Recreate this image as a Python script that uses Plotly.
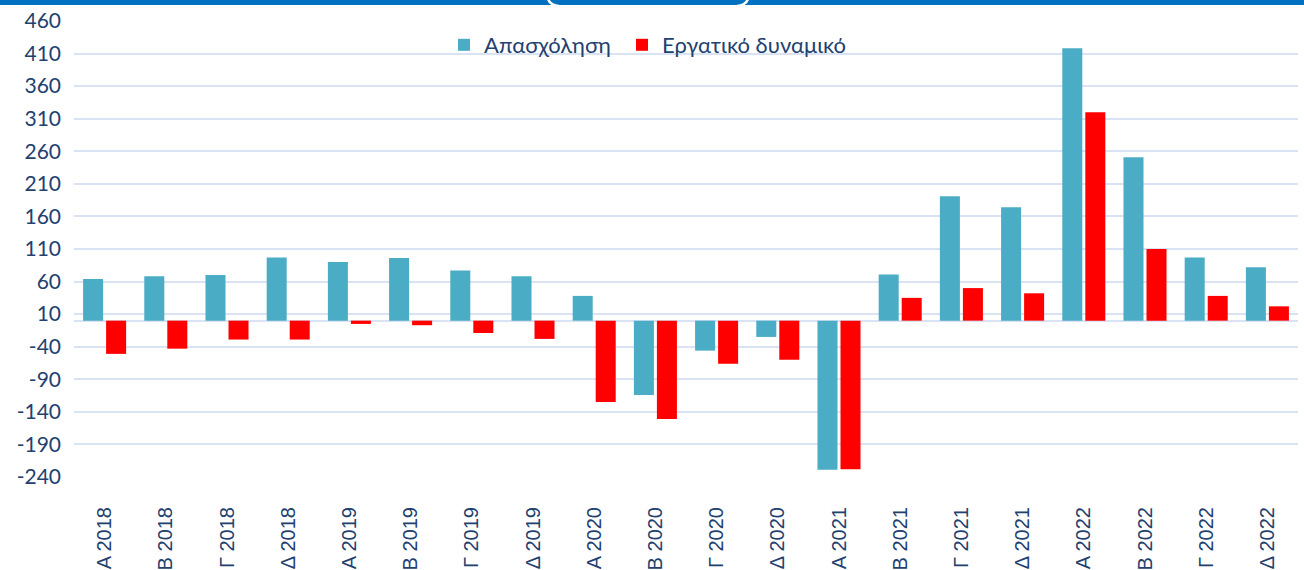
import plotly.graph_objects as go

categories = ["Α 2018", "Β 2018", "Γ 2018", "Δ 2018",
              "Α 2019", "Β 2019", "Γ 2019", "Δ 2019",
              "Α 2020", "Β 2020", "Γ 2020", "Δ 2020",
              "Α 2021", "Β 2021", "Γ 2021", "Δ 2021",
              "Α 2022", "Β 2022", "Γ 2022", "Δ 2022"]
apasxolisi = [64, 68, 70, 97, 90, 96, 77, 68, 38, -114, -46, -25,
              -229, 71, 191, 174, 418, 251, 97, 82]
ergatiko = [-51, -43, -29, -29, -5, -7, -19, -28, -125, -151, -66, -60,
            -228, 35, 50, 42, 320, 110, 38, 22]
y_ticks = list(range(-240, 461, 50))

W, H = 1304, 570
ML, MR, MT, MB = 74, 6, 21, 93
PW, PH = W - ML - MR, H - MT - MB

def px(x):
    return (x - ML) / PW

def py(y):
    return (H - MB - y) / PH

TXT = "#22416F"
GRID = "#D9E3F3"

fig = go.Figure()
fig.add_trace(go.Bar(x=categories, y=apasxolisi, name="Απασχόληση",
                     marker=dict(color="#4BACC6", line=dict(width=0)), legend="legend"))
fig.add_trace(go.Bar(x=categories, y=ergatiko, name="Εργατικό δυναμικό",
                     marker=dict(color="#FF0000", line=dict(width=0)), legend="legend2"))

shapes = [
    dict(type="rect", xref="paper", yref="paper", x0=px(-5), x1=px(W + 5),
         y0=py(5), y1=py(-5), fillcolor="#0070C0", line=dict(width=0), layer="above"),
    dict(type="path", xref="paper", yref="paper",
         path=f"M {px(548)},{py(-1)} Q {px(550)},{py(5)} {px(559)},{py(6)}",
         line=dict(color="white", width=2.5), layer="above"),
    dict(type="path", xref="paper", yref="paper",
         path=f"M {px(748)},{py(-1)} Q {px(746)},{py(5)} {px(737)},{py(6)}",
         line=dict(color="white", width=2.5), layer="above"),
]

leg_common = dict(orientation="h", xanchor="left", y=py(45), yanchor="middle",
                  font=dict(size=22, color=TXT, family="Lato, sans-serif"),
                  itemwidth=30, bgcolor="rgba(0,0,0,0)", tracegroupgap=0)

fig.update_layout(
    width=W, height=H,
    margin=dict(l=ML, r=MR, t=MT, b=MB, pad=0, autoexpand=False),
    paper_bgcolor="white", plot_bgcolor="white",
    barmode="group", bargap=0.248, bargroupgap=0.13,
    font=dict(family="Lato, Liberation Sans, sans-serif", color=TXT, size=20),
    showlegend=True,
    legend=dict(x=px(444), **leg_common),
    legend2=dict(x=px(622), **leg_common),
    shapes=shapes,
    xaxis=dict(type="category", tickangle=-90, showgrid=False, showline=False,
               ticks="", ticklabelstandoff=25, automargin=False,
               tickfont=dict(family="Liberation Sans, Arial, sans-serif", size=20, color=TXT)),
    yaxis=dict(range=[-240, 460], tickvals=y_ticks, ticktext=[str(v) for v in y_ticks],
               showgrid=True, gridcolor=GRID, gridwidth=2, automargin=False,
               zeroline=True, zerolinecolor=GRID, zerolinewidth=2,
               showline=False, ticks="", ticklabelstandoff=12,
               tickfont=dict(family="Lato, sans-serif", size=21, color=TXT)),
)

fig.write_html("out.html", config={"displayModeBar": False},
               post_script="document.body.style.margin='0';document.body.style.overflow='hidden';")
